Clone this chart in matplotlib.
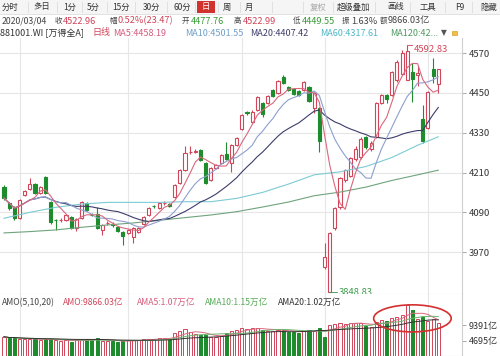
import matplotlib
matplotlib.use("Agg")
import matplotlib.pyplot as plt
import numpy as np
import pandas as pd
from matplotlib.patches import Ellipse, Rectangle

FONTS = ['Noto Sans CJK SC', 'DejaVu Sans']
plt.rcParams['font.family'] = FONTS

# ---------------- data ----------------
holidays = ['2020-01-01', '2020-01-24', '2020-01-27', '2020-01-28',
            '2020-01-29', '2020-01-30', '2020-01-31']
dates = [d for d in pd.bdate_range('2019-10-29', '2020-03-04')
         if d.strftime('%Y-%m-%d') not in holidays]

opens = [4166, 4118, 4106, 4073, 4142, 4160, 4175, 4148, 4196, 4121,
         4068, 4066, 4067, 4076, 4043, 4073, 4118, 4083, 4085, 4037,
         4058, 4054, 4046, 4031, 4028, 4016, 4031, 4055, 4082, 4110,
         4103, 4117, 4115, 4136, 4178, 4217, 4271, 4273, 4278, 4239,
         4188, 4224, 4239, 4266, 4239, 4293, 4341, 4391, 4362, 4398,
         4419, 4419, 4459, 4450, 4498, 4468, 4462, 4456, 4459, 4468,
         4404, 4404, 3925, 3849, 4043, 4107, 4187, 4200, 4250, 4256,
         4317, 4280, 4317, 4419, 4443, 4443, 4490, 4508, 4490, 4513,
         4505, 4371, 4344, 4522, 4477.76]
highs = [4172, 4122, 4110, 4130, 4158, 4193, 4178, 4170, 4200, 4124,
         4070, 4072, 4085, 4078, 4073, 4124, 4120, 4088, 4106, 4055,
         4064, 4062, 4048, 4034, 4040, 4046, 4046, 4079, 4106, 4113,
         4121, 4124, 4118, 4175, 4220, 4290, 4290, 4281, 4281, 4242,
         4227, 4236, 4266, 4302, 4296, 4317, 4386, 4395, 4398, 4440,
         4422, 4443, 4462, 4489, 4505, 4471, 4465, 4459, 4486, 4471,
         4453, 4408, 3998, 4032, 4106, 4197, 4222, 4258, 4290, 4316,
         4320, 4304, 4422, 4447, 4446, 4516, 4548, 4580, 4592.83, 4540,
         4530, 4413, 4456, 4555, 4522.99]
lows = [4128, 4098, 4068, 4070, 4138, 4156, 4145, 4144, 4145, 4055,
        4037, 4060, 4063, 4040, 4035, 4070, 4094, 4078, 4040, 4022,
        4052, 4046, 4031, 3992, 4024, 3998, 4028, 4052, 4080, 4104,
        4100, 4113, 4106, 4133, 4175, 4214, 4266, 4268, 4245, 4175,
        4185, 4221, 4236, 4248, 4212, 4290, 4338, 4383, 4358, 4395,
        4378, 4416, 4437, 4447, 4477, 4456, 4444, 4441, 4456, 4422,
        4390, 4272, 3920, 3848.83, 4038, 4100, 4180, 4195, 4245, 4250,
        4282, 4276, 4314, 4415, 4420, 4440, 4483, 4504, 4489, 4422,
        4470, 4300, 4340, 4480, 4449.55]
closes = [4133, 4103, 4073, 4127, 4154, 4175, 4148, 4166, 4148, 4061,
          4066, 4068, 4082, 4043, 4070, 4121, 4097, 4082, 4043, 4052,
          4059, 4051, 4034, 4019, 4037, 4043, 4043, 4076, 4103, 4108,
          4118, 4119, 4109, 4172, 4217, 4269, 4273, 4276, 4248, 4178,
          4224, 4233, 4263, 4251, 4293, 4314, 4383, 4389, 4392, 4437,
          4386, 4440, 4440, 4486, 4480, 4459, 4447, 4444, 4483, 4425,
          4450, 4305, 3955, 4028, 4103, 4192, 4217, 4254, 4280, 4312,
          4287, 4300, 4419, 4443, 4430, 4513, 4543, 4570, 4575, 4492,
          4510, 4305, 4453.5, 4499.49, 4522.96]
amount = [5850, 5350, 5600, 5100, 5050, 5200, 5050, 4950, 5050, 5000,
          4800, 4650, 4700, 4350, 4750, 4850, 5050, 4850, 5350, 4650,
          4650, 4450, 4350, 4400, 4750, 4850, 4900, 5000, 5150, 5250,
          5350, 5400, 5300, 6900, 7600, 8100, 7400, 6700, 6400, 6350,
          5850, 5900, 6100, 7050, 7700, 7900, 8400, 8100, 8400, 8600,
          8000, 7600, 7700, 8000, 7800, 7300, 7200, 7100, 7500, 7900,
          7700, 8400, 5900, 9500, 9800, 10100, 9700, 10000, 9900, 10100,
          9200, 8900, 10200, 10900, 10500, 11500, 11800, 12300, 15400, 13800,
          11300, 11900, 10600, 11200, 9866.03]

# longer moving averages (no history available)
ma60_at = [0, 5, 10, 15, 20, 25, 30, 35, 40, 45, 50, 55, 60, 65, 70, 75, 80, 84]
ma60_val = [4072, 4090, 4105, 4115, 4120, 4120, 4120, 4122, 4122, 4132,
            4150, 4175, 4203, 4212, 4228, 4255, 4292, 4317.61]
ma120_at = [0, 5, 10, 15, 20, 25, 30, 35, 40, 45, 50, 55, 60, 65, 70, 75, 80, 84]
ma120_val = [4028, 4032, 4037, 4045, 4052, 4058, 4066, 4074, 4082, 4092,
             4106, 4121, 4140, 4151, 4166, 4186, 4203, 4217]

price_ticks = [4570, 4450, 4330, 4210, 4090, 3970]
vol_ticks = [9391, 4695]
vol_tick_labels = ['9391亿', '4695亿']

toolbar = ['分时', '多日', '1分', '5分', '15分', '30分', '60分', '日', '周', '月',
           '复权', '超级叠加', '画线', '工具', 'F9', '隐藏']
quote_labels = ['收', '幅', '开', '高', '低', '振', '额']
quote_values = [('4522.96', 'r'), ('0.52%(23.47)', 'r'), ('4477.76', 'g'),
                ('4522.99', 'r'), ('4449.55', 'g'), ('1.63%', 'k'), ('9866.03亿', 'k')]
quote_date = '2020/03/04'
ma_row = ['881001.WI [万得全A]', '日线', 'MA5:4458.19', 'MA10:4501.55',
          'MA20:4407.42', 'MA60:4317.61', 'MA120:42...']
amo_row = ['AMO(5,10,20)', 'AMO:9866.03亿', 'AMA5:1.07万亿',
           'AMA10:1.15万亿', 'AMA20:1.02万亿']

# ---------------- styles ----------------
RED = '#d0465a'
GREEN = '#1c8c2c'
DARK = '#333333'
C_MA5 = '#d9687e'
C_MA10 = '#8e9fcf'
C_MA20 = '#3d3d6b'
C_MA60 = '#7ccbd4'
C_MA120 = '#6ea47c'
GRID = '#e6e6e6'

W, H = 500, 356
fig = plt.figure(figsize=(W / 100, H / 100), dpi=100)
fig.patch.set_facecolor('white')


def fx(x):
    return x / W


def fy(y):
    return 1 - y / H


ax = fig.add_axes([0, fy(294), fx(462), (294 - 38) / H])
axv = fig.add_axes([0, 0, fx(462), (356 - 294) / H])

n = len(closes)
xs = np.arange(n)
o = np.array(opens, float)
h = np.array(highs, float)
l = np.array(lows, float)
c = np.array(closes, float)
up = c >= o

xlim = (-4 / 5.17, (462 - 4) / 5.17)
BW = 0.6

# month grid
months = pd.Series([d.month for d in dates])
month_starts = [i for i in range(1, n) if months[i] != months[i - 1]]

for a in (ax, axv):
    a.set_xlim(*xlim)
    for s in ['top', 'left']:
        a.spines[s].set_visible(False)
    a.spines['right'].set_color('#cfcfcf')
    a.spines['bottom'].set_color('#d8d8d8')
    a.spines['right'].set_linewidth(0.8)
    a.spines['bottom'].set_linewidth(0.8)
    a.set_xticks([])
    for m in month_starts:
        a.axvline(m, color=GRID, lw=0.8, zorder=0)

ax.set_ylim(3844, 4615.2)
ax.yaxis.tick_right()
ax.set_yticks(price_ticks)
ax.set_yticklabels([str(t) for t in price_ticks])
ax.tick_params(axis='y', length=3, width=0.6, color='#999999', pad=2,
               labelsize=6.8, labelcolor=DARK)
for t in price_ticks:
    ax.axhline(t, color=GRID, lw=0.8, zorder=0)

# candles
ax.vlines(xs, l, h, colors=np.where(up, RED, GREEN), lw=0.8, zorder=2)
body_lo = np.minimum(o, c)
body_h = np.abs(c - o)
ax.bar(xs[up], body_h[up], bottom=body_lo[up], width=BW, facecolor='white',
       edgecolor=RED, linewidth=0.8, zorder=3)
ax.bar(xs[~up], body_h[~up], bottom=body_lo[~up], width=BW, facecolor=GREEN,
       edgecolor=GREEN, linewidth=0.8, zorder=3)

# moving averages
cs = pd.Series(c)
ma5 = cs.rolling(5, min_periods=1).mean()
ma10 = cs.rolling(10, min_periods=1).mean()
ma20 = cs.rolling(20, min_periods=1).mean()
ax.plot(ma120_at, ma120_val, color=C_MA120, lw=0.8, zorder=4)
ax.plot(ma60_at, ma60_val, color=C_MA60, lw=0.8, zorder=4)
ax.plot(xs, ma20, color=C_MA20, lw=0.8, zorder=4)
ax.plot(xs, ma10, color=C_MA10, lw=0.8, zorder=4)
ax.plot(xs, ma5, color=C_MA5, lw=0.8, zorder=4)

# high / low markers
ih = int(np.argmax(h))
il = int(np.argmin(l))
ax.plot([ih, ih + 1.0], [h[ih], h[ih]], color=RED, lw=0.6, zorder=5)
ax.text(ih + 1.2, h[ih], f'{h[ih]:.2f}', color=RED, fontsize=6.8,
        va='top', ha='left', zorder=6)
ax.plot([il, il + 1.5], [l[il], l[il]], color='#3a9a4a', lw=0.6, zorder=5)
ax.text(il + 1.7, l[il], f'{l[il]:.2f}', color='#3a9a4a', fontsize=6.8,
        va='center', ha='left', zorder=6)

# volume (amount) panel
amt = np.array(amount, float)
prev = np.r_[c[0], c[:-1]]
vup = c >= prev
axv.set_ylim(0, (356 - 294) * 303)
axv.bar(xs[vup], amt[vup], width=BW, facecolor='white', edgecolor=RED,
        linewidth=0.7, zorder=3)
axv.bar(xs[~vup], amt[~vup], width=BW, facecolor=GREEN, edgecolor=GREEN,
        linewidth=0.7, zorder=3)
asr = pd.Series(amt)
axv.plot(xs, asr.rolling(5, min_periods=1).mean(), color=C_MA5, lw=0.7, zorder=4)
axv.plot(xs, asr.rolling(10, min_periods=1).mean(), color='#6fb36f', lw=0.7, zorder=4)
axv.plot(xs, asr.rolling(20, min_periods=1).mean(), color='#333333', lw=0.7, zorder=4)
axv.yaxis.tick_right()
axv.set_yticks(vol_ticks)
axv.set_yticklabels(vol_tick_labels)
axv.tick_params(axis='y', length=3, width=0.6, color='#999999', pad=2,
                labelsize=6.5, labelcolor=DARK)
axv.add_patch(Ellipse((79, 11400), 15, 8200, fill=False, edgecolor='#d43030',
                      lw=1.2, zorder=6, clip_on=False))

# ---------------- header texts ----------------
fig.add_artist(Rectangle((0, fy(13.5)), 1, 13.5 / H, transform=fig.transFigure,
                         facecolor='#f5f5f5', edgecolor='none', zorder=0))
fig.add_artist(plt.Line2D([0, 1], [fy(13.5), fy(13.5)], transform=fig.transFigure,
                          color='#dddddd', lw=0.6))
tb_x = [2, 33, 63, 87, 112, 143, 173, 202, 223, 245, 310, 337, 387, 420, 455, 480]
seps = [28, 57, 82, 107, 135, 167, 195, 218, 240, 272, 303, 333, 375, 410, 445, 472]
for sx in seps:
    fig.add_artist(plt.Line2D([fx(sx), fx(sx)], [fy(1.5), fy(12)],
                              transform=fig.transFigure, color='#dcdcdc', lw=0.6))
for lab, x in zip(toolbar, tb_x):
    col = DARK
    if lab == '日':
        fig.add_artist(Rectangle((fx(197), fy(13)), fx(18), 12 / H,
                                 transform=fig.transFigure, facecolor='#d2322d',
                                 edgecolor='none', zorder=1))
        col = 'white'
    if lab == '复权':
        col = '#aaaaaa'
    fig.text(fx(x), fy(7), lab, fontsize=6.0, color=col, va='center', ha='left', zorder=2)

cmap = {'k': '#444444', 'r': '#d0465a', 'g': '#3a9a3a'}
fig.text(fx(2), fy(21), quote_date, fontsize=6.3, color='#444444', va='center', ha='left')
ql_x = [54.5, 109.5, 182, 234, 292.5, 342, 379.5]
qv_x = [63, 117.5, 190.5, 242.5, 302, 351.5, 388]
for lab, (val, cc), x1, x2 in zip(quote_labels, quote_values, ql_x, qv_x):
    fig.text(fx(x1), fy(21), lab, fontsize=5.4, color='#444444', va='center', ha='left')
    fig.text(fx(x2), fy(21), val, fontsize=6.6, color=cmap[cc], va='center', ha='left')

ma_cols = ['#333333', '#d0465a', '#d45c7c', '#6f9fc6', '#3d3d6b', '#4cb7c6', '#4f9a5f']
ma_x = [0, 92, 113, 185, 250, 320, 390]
for lab, x, cc in zip(ma_row, ma_x, ma_cols):
    fig.text(fx(x), fy(33), lab, fontsize=6.5, color=cc, va='center', ha='left')
fig.text(fx(441), fy(33), '▼', fontsize=5.5, color='#555555', va='center', ha='left',
         family=['DejaVu Sans'])
fig.add_artist(Rectangle((fx(452), fy(35)), fx(4.5), 4.5 / H, transform=fig.transFigure,
                         facecolor='#f0c040', edgecolor='#d09020', lw=0.4))

amo_cols = ['#444444', '#d0465a', '#d45c7c', '#55aa55', '#333333']
amo_x = [2, 63, 137, 205, 278]
for lab, x, cc in zip(amo_row, amo_x, amo_cols):
    fig.text(fx(x), fy(302.5), lab, fontsize=6.2, color=cc, va='center', ha='left')

fig.savefig('out.png', dpi=100)
